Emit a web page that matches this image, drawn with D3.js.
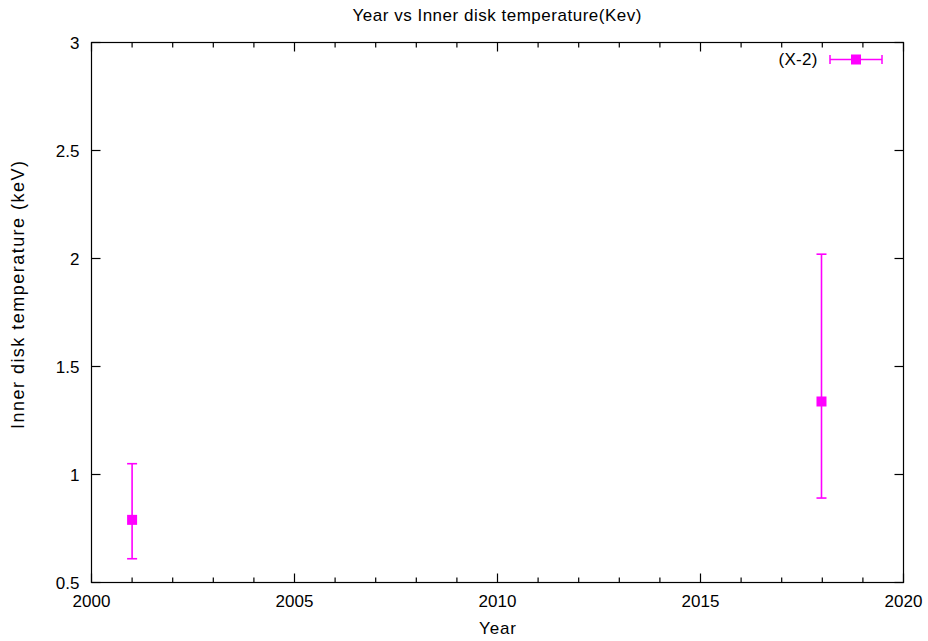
<!DOCTYPE html>
<html>
<head>
<meta charset="utf-8">
<script src="https://cdn.jsdelivr.net/npm/d3@7"></script>
<style>
  body { margin: 0; background: #fff; }
  text { font-family: "Liberation Sans", Arial, sans-serif; fill: #000; font-size: 17px; }
</style>
</head>
<body>
<div id="chart"></div>
<script>
let width = 928, height = 641
let margin = { top: 42.5, right: 24.5, bottom: 58.5, left: 91.5 }

// data
let years = [2001.0, 2017.98]
let temps = [0.79, 1.338]
let tempLow = [0.61, 0.891]
let tempHigh = [1.05, 2.02]
let xTicks = [2000, 2005, 2010, 2015, 2020]
let yTicks = [0.5, 1, 1.5, 2, 2.5, 3]
let seriesName = '(X-2)'

let color = '#ff00ff'

let svg = d3.select('#chart')
  .append('svg')
  .attr('width', width)
  .attr('height', height)

let x = d3.scaleLinear()
  .domain([2000, 2020])
  .range([margin.left, width - margin.right])
let y = d3.scaleLinear()
  .domain([0.5, 3])
  .range([height - margin.bottom, margin.top])

let x0 = margin.left, x1 = width - margin.right
let y0 = height - margin.bottom, y1 = margin.top

let axes = svg.append('g').attr('stroke', '#000').attr('stroke-width', 1.2)

// minor x ticks (every year), bottom and top
let minor = d3.range(2001, 2020).filter(d => d % 5 != 0)
minor.forEach(d => {
  axes.append('line').attr('x1', x(d)).attr('x2', x(d)).attr('y1', y0).attr('y2', y0 - 5)
  axes.append('line').attr('x1', x(d)).attr('x2', x(d)).attr('y1', y1).attr('y2', y1 + 5)
})
xTicks.forEach(d => {
  axes.append('line').attr('x1', x(d)).attr('x2', x(d)).attr('y1', y0).attr('y2', y0 - 9)
  axes.append('line').attr('x1', x(d)).attr('x2', x(d)).attr('y1', y1).attr('y2', y1 + 9)
})
yTicks.forEach(d => {
  axes.append('line').attr('x1', x0).attr('x2', x0 + 9).attr('y1', y(d)).attr('y2', y(d))
  axes.append('line').attr('x1', x1).attr('x2', x1 - 9).attr('y1', y(d)).attr('y2', y(d))
})

axes.append('rect')
  .attr('x', x0).attr('y', y1)
  .attr('width', x1 - x0).attr('height', y0 - y1)
  .attr('fill', 'none')

// tick labels
svg.append('g').selectAll('text')
  .data(xTicks).enter().append('text')
  .attr('x', d => x(d))
  .attr('y', y0 + 24)
  .attr('text-anchor', 'middle')
  .text(d => d)

svg.append('g').selectAll('text')
  .data(yTicks).enter().append('text')
  .attr('x', x0 - 12)
  .attr('y', d => y(d) + 6.5)
  .attr('text-anchor', 'end')
  .text(d => d)

// titles
svg.append('text')
  .attr('x', 497).attr('y', 20.5)
  .attr('text-anchor', 'middle')
  .attr('textLength', 289)
  .attr('lengthAdjust', 'spacing')
  .text('Year vs Inner disk temperature(Kev)')

svg.append('text')
  .attr('x', 497.5).attr('y', 634)
  .attr('text-anchor', 'middle')
  .attr('textLength', 37)
  .text('Year')

svg.append('text')
  .attr('transform', 'translate(24, 295) rotate(-90)')
  .attr('text-anchor', 'middle')
  .attr('textLength', 268)
  .attr('lengthAdjust', 'spacing')
  .style('font-size', '18px')
  .text('Inner disk temperature (keV)')

// error bars
let pts = years.map((d, i) => ({ year: d, t: temps[i], lo: tempLow[i], hi: tempHigh[i] }))
let g = svg.append('g').attr('stroke', color).attr('stroke-width', 1.6)

let bars = g.selectAll('.bar').data(pts).enter().append('g').attr('class', 'bar')
bars.append('line')
  .attr('x1', d => x(d.year)).attr('x2', d => x(d.year))
  .attr('y1', d => y(d.lo)).attr('y2', d => y(d.hi))
bars.append('line')
  .attr('x1', d => x(d.year) - 5).attr('x2', d => x(d.year) + 5)
  .attr('y1', d => y(d.lo)).attr('y2', d => y(d.lo))
bars.append('line')
  .attr('x1', d => x(d.year) - 5).attr('x2', d => x(d.year) + 5)
  .attr('y1', d => y(d.hi)).attr('y2', d => y(d.hi))
bars.append('rect')
  .attr('x', d => x(d.year) - 5).attr('y', d => y(d.t) - 5)
  .attr('width', 10).attr('height', 10)
  .attr('stroke', 'none')
  .attr('fill', color)

// legend
let lg = svg.append('g')
lg.append('text')
  .attr('x', 817.5).attr('y', 65)
  .attr('text-anchor', 'end')
  .attr('textLength', 39)
  .text(seriesName)
let lgl = lg.append('g').attr('stroke', color).attr('stroke-width', 1.5)
lgl.append('line').attr('x1', 830).attr('x2', 882).attr('y1', 59.5).attr('y2', 59.5)
lgl.append('line').attr('x1', 830).attr('x2', 830).attr('y1', 55).attr('y2', 64)
lgl.append('line').attr('x1', 882).attr('x2', 882).attr('y1', 55).attr('y2', 64)
lg.append('rect').attr('x', 851).attr('y', 54.5).attr('width', 10).attr('height', 10).attr('fill', color)
</script>
</body>
</html>
